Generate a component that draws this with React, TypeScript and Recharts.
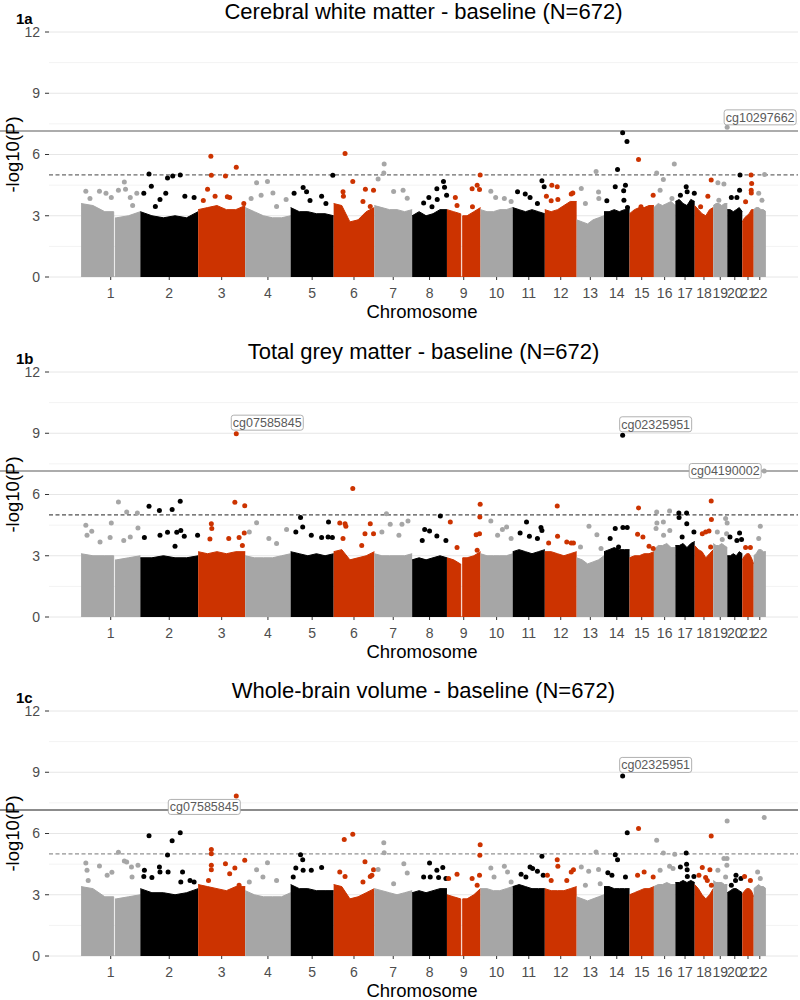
import React from 'react'
import {
  ComposedChart, Area, Scatter, XAxis, YAxis, CartesianGrid, ReferenceLine,
} from 'recharts'

// chromosomes and their lengths (Mb, hg19)
const chromosomes = [1, 2, 3, 4, 5, 6, 7, 8, 9, 10, 11, 12, 13, 14, 15, 16, 17, 18, 19, 20, 21, 22]
const chromLengthsMb = [
  249.25, 243.2, 198.0, 191.2, 180.9, 171.1, 159.1, 146.4, 141.2, 135.5, 135.0,
  133.9, 115.2, 107.3, 102.5, 90.4, 81.2, 78.1, 59.1, 63.0, 48.1, 51.3,
]
const yTicks = [0, 3, 6, 9, 12]
const yMinorTicks = [1.5, 4.5, 7.5, 10.5]
const suggestiveLine = 5
const genomeWideLine = 7.15

// regions without probes (fraction along the chromosome)
const centromereGaps = [
  { chr: 1, from: 0.55, to: 0.58 },
  { chr: 9, from: 0.41, to: 0.47 },
]

// top of the dense cloud of probes, 6 samples along each chromosome
const massA = [
  [3.6, 3.5, 3.2, 2.9, 3.0, 3.2], [3.2, 3.0, 2.9, 3.0, 2.9, 3.2], [3.3, 3.4, 3.5, 3.3, 3.3, 3.5],
  [3.4, 3.2, 3.0, 2.9, 2.9, 3.0], [3.4, 3.2, 3.2, 3.1, 3.1, 3.0], [3.6, 3.5, 2.7, 2.8, 3.2, 3.4],
  [3.5, 3.4, 3.3, 3.3, 3.2, 3.3], [3.0, 3.2, 3.0, 3.1, 3.3, 3.3], [3.3, 3.2, 3.1, 3.0, 3.2, 3.4],
  [3.3, 3.2, 3.2, 3.3, 3.3, 3.4], [3.4, 3.3, 3.2, 3.3, 3.2, 3.1], [3.3, 3.2, 3.3, 3.5, 3.7, 3.7],
  [2.8, 2.7, 2.6, 2.8, 2.9, 3.0], [3.2, 3.2, 3.3, 3.2, 3.3, 3.3], [3.1, 3.3, 3.4, 3.4, 3.5, 3.5],
  [3.4, 3.6, 3.5, 3.6, 3.7, 3.5], [3.7, 3.8, 3.6, 3.5, 3.8, 3.7], [3.5, 3.3, 3.1, 3.0, 3.3, 3.4],
  [3.5, 3.6, 3.6, 3.5, 3.6, 3.6], [3.3, 3.3, 3.2, 3.3, 3.4, 3.2], [2.7, 2.9, 3.0, 3.1, 3.3, 3.3],
  [3.3, 3.4, 3.4, 3.3, 3.3, 3.2],
]
const massB = [
  [3.1, 3.0, 3.0, 2.8, 2.9, 3.0], [2.9, 2.9, 3.0, 2.9, 2.9, 3.0], [3.2, 3.1, 3.2, 3.1, 3.2, 3.2],
  [3.0, 2.9, 2.9, 2.9, 3.0, 3.1], [3.2, 3.1, 3.0, 3.1, 3.0, 3.1], [3.2, 3.3, 2.8, 2.9, 3.0, 3.2],
  [3.1, 3.0, 3.0, 3.0, 3.0, 3.1], [2.8, 2.9, 2.8, 2.9, 3.0, 2.9], [2.9, 2.8, 2.6, 2.9, 3.0, 3.2],
  [3.1, 3.0, 3.0, 3.0, 3.0, 3.1], [3.2, 3.3, 3.2, 3.1, 3.2, 3.3], [3.2, 3.2, 3.1, 3.0, 3.1, 3.2],
  [2.9, 2.8, 2.6, 2.7, 2.8, 3.0], [3.2, 3.3, 3.4, 3.3, 3.3, 3.3], [2.9, 3.0, 3.0, 3.1, 3.1, 3.2],
  [3.3, 3.5, 3.5, 3.6, 3.4, 3.4], [3.5, 3.5, 3.6, 3.4, 3.6, 3.7], [3.5, 3.3, 3.2, 2.9, 3.1, 3.3],
  [3.6, 3.5, 3.5, 3.6, 3.5, 3.4], [3.0, 3.0, 3.1, 3.0, 3.2, 3.1], [2.8, 3.0, 3.1, 3.1, 2.9, 2.6],
  [3.0, 3.1, 3.3, 3.3, 3.2, 3.2],
]
const massC = [
  [3.4, 3.3, 2.9, 2.8, 2.9, 3.0], [3.3, 3.1, 3.1, 3.0, 3.1, 3.3], [3.5, 3.4, 3.3, 3.2, 3.4, 3.4],
  [3.2, 3.0, 2.9, 2.9, 2.9, 3.1], [3.5, 3.3, 3.3, 3.2, 3.2, 3.2], [3.5, 3.4, 2.8, 2.9, 3.1, 3.3],
  [3.3, 3.2, 3.1, 3.0, 3.1, 3.2], [3.1, 3.2, 3.1, 3.2, 3.3, 3.3], [3.0, 2.9, 2.8, 2.8, 3.0, 3.3],
  [3.3, 3.3, 3.2, 3.2, 3.3, 3.4], [3.4, 3.5, 3.4, 3.3, 3.3, 3.3], [3.3, 3.2, 3.2, 3.2, 3.3, 3.4],
  [2.9, 2.8, 2.7, 2.8, 2.9, 3.0], [3.4, 3.4, 3.3, 3.3, 3.3, 3.3], [3.0, 3.1, 3.2, 3.3, 3.3, 3.4],
  [3.4, 3.5, 3.5, 3.6, 3.5, 3.5], [3.6, 3.6, 3.7, 3.6, 3.7, 3.6], [3.5, 3.3, 3.0, 2.8, 3.0, 3.3],
  [3.7, 3.6, 3.6, 3.6, 3.5, 3.5], [3.1, 3.2, 3.3, 3.3, 3.2, 3.1], [3.0, 3.2, 3.3, 3.3, 3.2, 2.9],
  [3.3, 3.4, 3.5, 3.4, 3.4, 3.3],
]

// probes standing out above the cloud: [chromosome, fraction along it, -log10(P)]
const pointsA: [number, number, number][] = [
  [1, .08, 4.2], [1, .15, 3.85], [1, .31, 4.2], [1, .42, 4.1], [1, .51, 3.9], [1, .63, 4.25], [1, .73, 4.65],
  [1, .75, 4.3], [1, .83, 3.9], [1, .94, 4.1], [1, .87, 3.5],
  [2, .06, 4.1], [2, .15, 5.05], [2, .19, 4.45], [2, .44, 4.1], [2, .47, 4.85], [2, .56, 4.95], [2, .69, 5.0],
  [2, .34, 3.8], [2, .77, 3.95], [2, .93, 3.9], [2, .26, 3.45],
  [3, .11, 3.75], [3, .2, 4.3], [3, .27, 5.92], [3, .28, 4.98], [3, .36, 3.95], [3, .58, 4.95], [3, .81, 5.37],
  [3, .67, 3.9], [3, .97, 3.6], [3, .62, 3.93],
  [4, .25, 4.62], [4, .49, 4.68], [4, .13, 3.85], [4, .35, 4.0], [4, .61, 4.12], [4, .69, 3.45], [4, .9, 3.8],
  [5, .08, 4.1], [5, .29, 4.38], [5, .37, 4.17], [5, .45, 3.75], [5, .72, 3.95], [5, .82, 3.6], [5, .98, 4.98],
  [6, .23, 4.17], [6, .24, 3.95], [6, .28, 6.05], [6, .47, 4.68], [6, .78, 4.3], [6, .72, 3.7], [6, .98, 4.25], [6, .9, 3.45],
  [7, .1, 4.8], [7, .25, 5.1], [7, .26, 5.53], [7, .51, 4.19], [7, .76, 4.25], [7, .87, 3.86],
  [8, .33, 3.63], [8, .48, 3.9], [8, .71, 4.32], [8, .72, 3.8], [8, .9, 4.68], [8, .93, 4.39], [8, .99, 4.0], [8, .57, 3.44],
  [9, .25, 3.9], [9, .3, 3.5], [9, .75, 4.32], [9, .76, 3.44], [9, .9, 4.5], [9, .97, 4.29], [9, .99, 4.99],
  [10, .32, 4.2], [10, .47, 3.9], [10, .74, 3.85], [10, .95, 3.7],
  [11, .15, 4.17], [11, .39, 4.06], [11, .54, 3.9], [11, .77, 3.6], [11, .91, 4.71], [11, .98, 4.42],
  [12, .05, 3.96], [12, .22, 4.5], [12, .39, 4.42], [12, .2, 3.73], [12, .41, 3.8], [12, .83, 4.06], [12, .88, 4.12],
  [13, .17, 4.34], [13, .71, 5.17], [13, .8, 4.16], [13, .81, 3.85], [13, .32, 3.6],
  [14, .11, 3.73], [14, .53, 5.27], [14, .44, 4.42], [14, .73, 7.07], [14, .9, 6.64], [14, .84, 4.5], [14, .77, 4.22],
  [14, .78, 3.76], [14, .92, 3.4],
  [15, .37, 5.76], [15, .97, 4.0], [15, .47, 3.44],
  [16, .13, 5.1], [16, .44, 4.78], [16, .29, 4.25], [16, .84, 3.85], [16, .95, 5.53],
  [17, .56, 4.42], [17, .61, 4.17], [17, .26, 4.0], [17, .98, 4.1],
  [18, .89, 4.75], [18, .71, 3.96], [18, .32, 3.44],
  [19, .33, 4.62], [19, .76, 4.55], [19, .4, 3.76],
  [20, .85, 5.0], [20, .82, 4.25], [20, .27, 3.9], [20, .64, 3.9],
  [21, .77, 4.99], [21, .82, 4.58], [21, .78, 4.25], [21, .79, 4.12], [21, .29, 3.68],
  [22, .89, 5.02], [22, .41, 4.1], [22, .68, 3.76],
]
const pointsB: [number, number, number][] = [
  [1, .08, 4.49], [1, .18, 4.2], [1, .51, 4.6], [1, .63, 5.63], [1, .77, 5.14], [1, .95, 5.09], [1, .96, 4.36],
  [1, .83, 3.92], [1, .72, 3.75], [1, .49, 3.9], [1, .32, 3.67], [1, .1, 4.0],
  [2, .07, 3.89], [2, .15, 5.42], [2, .33, 5.22], [2, .55, 5.26], [2, .69, 5.67], [2, .34, 4.0], [2, .47, 4.15],
  [2, .63, 4.15], [2, .7, 4.24], [2, .76, 3.95], [2, .99, 4.0], [2, .6, 3.46],
  [3, .28, 4.57], [3, .29, 4.33], [3, .25, 3.82], [3, .78, 5.62], [3, .99, 5.45], [3, .98, 4.11], [3, .65, 3.84],
  [3, .87, 3.89], [3, .94, 3.5],
  [4, .25, 4.62], [4, .52, 3.84], [4, .91, 4.28], [4, .09, 4.16], [4, .69, 3.6],
  [5, .12, 4.16], [5, .23, 4.87], [5, .28, 4.41], [5, .48, 4.0], [5, .72, 3.89], [5, .88, 4.65], [5, .87, 3.92], [5, .97, 3.89],
  [6, .15, 4.6], [6, .28, 4.57], [6, .3, 4.44], [6, .47, 6.29], [6, .23, 3.84], [6, .69, 3.5], [6, .9, 4.57],
  [6, .77, 4.08], [6, .98, 4.08],
  [7, .32, 5.06], [7, .2, 4.16], [7, .42, 4.54], [7, .65, 4.0], [7, .89, 4.7], [7, .73, 4.54],
  [8, .36, 4.28], [8, .5, 4.21], [8, .71, 3.97], [8, .81, 4.95], [8, .97, 3.75], [8, .29, 3.75],
  [9, .1, 4.65], [9, .3, 3.4], [9, .87, 4.03], [9, .99, 5.52], [9, .98, 4.9], [9, .97, 4.08], [9, .9, 3.27],
  [10, .32, 4.7], [10, .53, 4.0], [10, .81, 4.41], [10, .68, 4.28], [10, .95, 3.84],
  [11, .43, 4.65], [11, .23, 4.11], [11, .52, 3.95], [11, .77, 3.84], [11, .88, 4.38], [11, .91, 4.24],
  [12, .12, 3.62], [12, .39, 5.44], [12, .4, 3.95], [12, .69, 3.67], [12, .83, 3.62], [12, .9, 3.62],
  [13, .45, 4.44], [13, .74, 4.03], [13, .89, 3.35], [13, .14, 3.43],
  [14, .44, 4.33], [14, .74, 4.38], [14, .91, 4.38], [14, .24, 3.84], [14, .57, 3.43],
  [15, .37, 5.34], [15, .33, 4.05], [15, .55, 3.92], [15, .8, 3.46], [15, .97, 3.35],
  [16, .13, 5.14], [16, .14, 4.6], [16, .44, 4.65], [16, .73, 5.19], [16, .74, 4.24], [16, .45, 4.0], [16, .1, 4.33],
  [17, .18, 5.09], [17, .58, 5.09], [17, .19, 4.87], [17, .59, 4.57], [17, .96, 4.16], [17, .35, 3.92],
  [18, .89, 5.68], [18, .9, 4.77], [18, .77, 4.21], [18, .41, 4.08], [18, .59, 4.16], [18, .86, 3.43],
  [19, .29, 4.16], [19, .88, 4.82], [19, .99, 4.6], [19, .95, 4.08], [19, .64, 3.79],
  [20, .18, 3.92], [20, .64, 3.75], [20, .82, 4.11], [20, .95, 3.79],
  [21, .29, 3.4], [21, .71, 3.4],
  [22, .54, 4.44], [22, .41, 3.84],
]
const pointsC: [number, number, number][] = [
  [1, .08, 4.56], [1, .1, 4.2], [1, .31, 4.41], [1, .52, 4.1], [1, .63, 5.08], [1, .73, 4.65], [1, .77, 4.6],
  [1, .96, 4.44], [1, .85, 4.36], [1, .86, 3.87], [1, .44, 3.95], [1, .12, 3.7],
  [2, .07, 4.2], [2, .06, 3.9], [2, .15, 5.89], [2, .2, 3.84], [2, .33, 4.36], [2, .34, 4.11], [2, .47, 4.95],
  [2, .48, 4.11], [2, .55, 5.65], [2, .69, 6.04], [2, .73, 4.11], [2, .7, 3.62], [2, .86, 3.7], [2, .93, 3.62],
  [3, .28, 5.22], [3, .28, 5.01], [3, .28, 4.44], [3, .28, 4.23], [3, .22, 3.7], [3, .58, 4.52], [3, .67, 4.03],
  [3, .78, 4.31], [3, .99, 4.69], [3, .87, 3.46],
  [4, .25, 4.23], [4, .49, 4.57], [4, .09, 3.62], [4, .39, 3.87], [4, .69, 3.7],
  [5, .12, 4.31], [5, .23, 4.96], [5, .28, 4.72], [5, .29, 4.2], [5, .48, 4.2], [5, .72, 4.33], [5, .06, 3.87],
  [6, .15, 4.11], [6, .26, 5.71], [6, .47, 5.96], [6, .28, 3.9], [6, .77, 4.62], [6, .98, 4.23], [6, .94, 3.95],
  [6, .72, 3.62], [6, .9, 3.9],
  [7, .25, 5.55], [7, .26, 5.06], [7, .1, 4.24], [7, .78, 4.52], [7, .87, 4.07], [7, .51, 3.54],
  [8, .5, 4.56], [8, .33, 3.87], [8, .52, 3.87], [8, .71, 4.2], [8, .88, 4.33], [8, .76, 3.84], [8, .97, 3.79],
  [9, .3, 4.0], [9, .05, 3.79], [9, .99, 5.45], [9, .98, 4.93], [9, .97, 3.95], [9, .75, 3.79], [9, .9, 3.46],
  [10, .32, 4.31], [10, .74, 4.39], [10, .84, 4.11], [10, .42, 3.87], [10, .95, 3.62],
  [11, .26, 4.0], [11, .54, 4.36], [11, .62, 4.28], [11, .77, 4.15], [11, .91, 4.88], [11, .95, 3.95], [11, .41, 3.87],
  [12, .08, 3.95], [12, .2, 3.7], [12, .39, 4.72], [12, .41, 4.39], [12, .69, 3.7], [12, .83, 4.11], [12, .9, 4.23],
  [13, .17, 4.36], [13, .44, 4.15], [13, .71, 5.09], [13, .8, 4.24], [13, .86, 3.54], [13, .32, 3.46],
  [14, .44, 4.96], [14, .53, 4.72], [14, .15, 4.08], [14, .31, 3.95], [14, .91, 6.04], [14, .84, 3.87],
  [15, .37, 6.24], [15, .33, 3.95], [15, .6, 4.11], [15, .97, 3.87],
  [16, .13, 5.67], [16, .44, 5.04], [16, .29, 4.2], [16, .73, 4.39], [16, .89, 4.28], [16, .97, 4.98],
  [17, .56, 5.04], [17, .58, 4.49], [17, .61, 4.23], [17, .26, 4.36], [17, .62, 3.9], [17, .96, 3.9],
  [18, .41, 4.33], [18, .82, 4.23], [18, .89, 5.88], [18, .23, 3.95], [18, .59, 3.84], [18, .9, 3.46], [18, .68, 3.7],
  [19, .33, 4.2], [19, .76, 4.77], [19, .98, 4.77], [19, .97, 4.44], [19, .99, 6.61], [19, .88, 3.87],
  [20, .58, 3.95], [20, .55, 3.7], [20, .91, 3.79], [20, .27, 3.46],
  [21, .2, 3.9], [21, .71, 3.7],
  [22, .32, 4.11], [22, .86, 6.78], [22, .54, 3.79],
]

// annotated probes
const labelsA = [{ probe: 'cg10297662', chr: 19, frac: 0.99, value: 7.33 }]
const labelsB = [
  { probe: 'cg07585845', chr: 3, frac: 0.81, value: 8.98 },
  { probe: 'cg02325951', chr: 14, frac: 0.73, value: 8.9 },
  { probe: 'cg04190002', chr: 22, frac: 0.86, value: 7.15 },
]
const labelsC = [
  { probe: 'cg07585845', chr: 3, frac: 0.81, value: 7.84 },
  { probe: 'cg02325951', chr: 14, frac: 0.73, value: 8.82 },
]

// where each label box sits relative to its point (px)
const labelNudges: Record<string, [number, number]> = {
  'a:cg10297662': [33, -10],
  'b:cg07585845': [31, -11],
  'b:cg02325951': [33, -11],
  'b:cg04190002': [-39, 0],
  'c:cg07585845': [-32, 11],
  'c:cg02325951': [33, -11],
}

const palette = ['#A6A6A6', '#000000', '#CC3300']
const font = '"Liberation Sans", Arial, sans-serif'
const xDomain: [number, number] = [-135, 3016]

const chromStarts = chromLengthsMb.map((_, i) => chromLengthsMb.slice(0, i).reduce((s, v) => s + v, 0))
const chromCenters = chromLengthsMb.map((len, i) => chromStarts[i] + len / 2)
const colorOf = (chr: number) => palette[(chr - 1) % 3]
const genomeX = (chr: number, frac: number) => chromStarts[chr - 1] + frac * chromLengthsMb[chr - 1]

function massRows(profile: number[], i: number) {
  const start = chromStarts[i]
  const len = chromLengthsMb[i]
  const step = 1 / (profile.length - 1)
  const gap = centromereGaps.find(g => g.chr === chromosomes[i])
  const rows: { x: number; y: number }[] = []
  let gapDone = !gap
  profile.forEach((h, k) => {
    const f = k * step
    if (gap && !gapDone && f > gap.from) {
      const next = profile.findIndex((_, j) => j * step > gap.to)
      rows.push(
        { x: start + gap.from * len, y: profile[k - 1] },
        { x: start + gap.from * len, y: 0 },
        { x: start + gap.to * len, y: 0 },
        { x: start + gap.to * len, y: profile[next] },
      )
      gapDone = true
    }
    if (gap && f > gap.from && f < gap.to) return
    rows.push({ x: start + f * len, y: h })
  })
  return rows
}

const Dot = (p: any) => <circle cx={p.cx} cy={p.cy} r={2.5} fill={colorOf(p.payload.chr)} />

const LabelledDot = (p: any) => {
  const { cx, cy, payload } = p
  const w = 72
  const h = 15
  const bx = cx + payload.dx - w / 2
  const by = cy + payload.dy - h / 2
  return (
    <g>
      <circle cx={cx} cy={cy} r={2.5} fill={colorOf(payload.chr)} />
      <rect x={bx} y={by} width={w} height={h} rx={2.5} fill="#fff" stroke="#A8A8A8" strokeWidth={0.9} />
      <text x={bx + w / 2} y={by + h / 2 + 4.3} textAnchor="middle" fontSize={12.5} fill="#5A5A5A" fontFamily={font}>
        {payload.probe}
      </text>
    </g>
  )
}

interface PanelProps {
  id: string
  tag: string
  title: string
  mass: number[][]
  points: [number, number, number][]
  labels: { probe: string; chr: number; frac: number; value: number }[]
  solid: string
  dashed: string
  top: number
}

function ManhattanPanel({ id, tag, title, mass, points, labels, solid, dashed, top }: PanelProps) {
  const dots = points.map(([chr, frac, value]) => ({ x: genomeX(chr, frac), y: value, chr }))
  const labelled = labels.map(l => {
    const [dx, dy] = labelNudges[`${id}:${l.probe}`]
    return { x: genomeX(l.chr, l.frac), y: l.value, chr: l.chr, probe: l.probe, dx, dy }
  })
  return (
    <div style={{ position: 'absolute', left: 0, top, width: 800, height: 340 }}>
      <ComposedChart width={800} height={340} margin={{ top: 32, right: 2, bottom: 33, left: 0 }}>
        <CartesianGrid vertical={false} horizontalValues={yMinorTicks} stroke="#F3F3F3" />
        <CartesianGrid vertical={false} horizontalValues={yTicks} stroke="#E6E6E6" />
        <XAxis
          type="number" dataKey="x" domain={xDomain} allowDataOverflow ticks={chromCenters} interval={0}
          tickFormatter={(v: number) => String(chromosomes[chromCenters.indexOf(v)])}
          height={30} axisLine={false} tickLine={{ stroke: '#333' }} tickSize={3} tickMargin={8}
          tick={{ fontSize: 14, fill: '#4D4D4D', fontFamily: font }}
        />
        <YAxis
          type="number" dataKey="y" domain={[0, 12]} allowDataOverflow ticks={yTicks} width={49}
          axisLine={false} tickLine={{ stroke: '#333' }} tickSize={4} tickMargin={5}
          tick={{ fontSize: 14, fill: '#4D4D4D', fontFamily: font }}
        />
        {mass.map((profile, i) => (
          <Area
            key={i} data={massRows(profile, i)} dataKey="y" type="linear"
            fill={colorOf(chromosomes[i])} fillOpacity={1} stroke={colorOf(chromosomes[i])} strokeWidth={1}
            dot={false} activeDot={false} isAnimationActive={false}
          />
        ))}
        <ReferenceLine y={suggestiveLine} stroke={dashed} strokeDasharray="4 2.5" strokeWidth={1} />
        <ReferenceLine
          segment={[{ x: -345, y: genomeWideLine }, { x: xDomain[1], y: genomeWideLine }]}
          ifOverflow="visible" stroke={solid} strokeWidth={1.1}
        />
        <Scatter data={dots} dataKey="y" shape={Dot} isAnimationActive={false} />
        <Scatter data={labelled} dataKey="y" shape={LabelledDot} isAnimationActive={false} />
      </ComposedChart>
      <svg width={800} height={340} style={{ position: 'absolute', left: 0, top: 0, pointerEvents: 'none' }}>
        <text x={423.5} y={18.5} textAnchor="middle" fontSize={22} fill="#000" fontFamily={font}>{title}</text>
        <text x={16} y={24} fontSize={15} fontWeight="bold" fill="#000" fontFamily={font}>{tag}</text>
        <text
          x={0} y={0} transform="translate(18.5,154.5) rotate(-90)" textAnchor="middle"
          fontSize={18.5} fill="#000" fontFamily={font}
        >-log10(P)</text>
        <text x={422} y={317.5} textAnchor="middle" fontSize={18.5} fill="#000" fontFamily={font}>Chromosome</text>
      </svg>
    </div>
  )
}

export default function App() {
  return (
    <div style={{ position: 'absolute', left: 0, top: 0, width: 800, height: 1000, background: '#fff' }}>
      <ManhattanPanel
        id="a" tag="1a" title="Cerebral white matter - baseline (N=672)"
        mass={massA} points={pointsA} labels={labelsA} solid="#5A5A5A" dashed="#444" top={0}
      />
      <ManhattanPanel
        id="b" tag="1b" title="Total grey matter - baseline (N=672)"
        mass={massB} points={pointsB} labels={labelsB} solid="#5A5A5A" dashed="#222" top={340}
      />
      <ManhattanPanel
        id="c" tag="1c" title="Whole-brain volume - baseline (N=672)"
        mass={massC} points={pointsC} labels={labelsC} solid="#1A1A1A" dashed="#777" top={679}
      />
    </div>
  )
}
